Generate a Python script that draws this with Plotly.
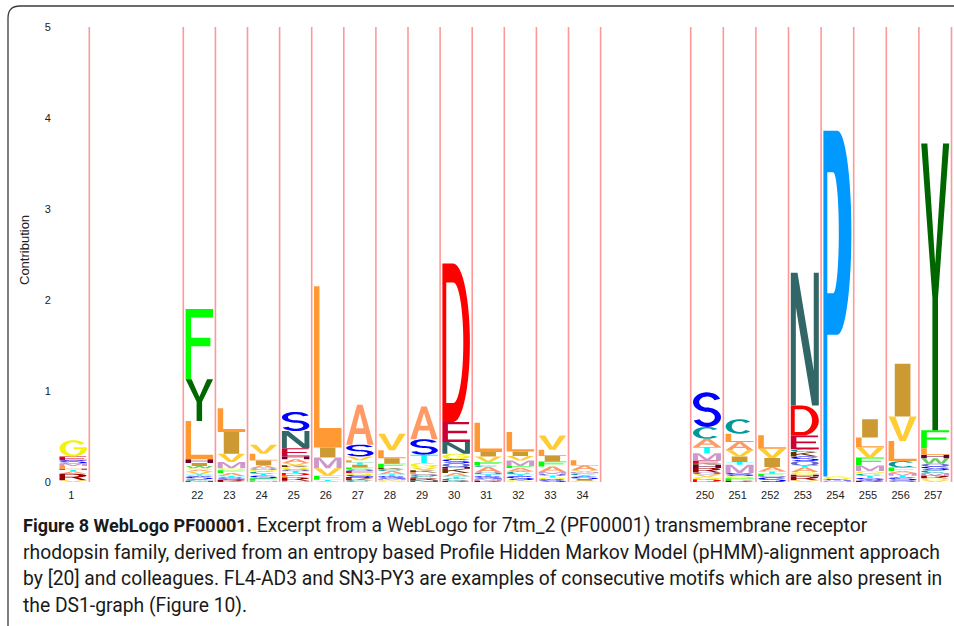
import math
import plotly.graph_objects as go

# ---------------- data ----------------
POSITIONS = ["1", "22", "23", "24", "25", "26", "27", "28", "29", "30", "31", "32", "33", "34",
             "250", "251", "252", "253", "254", "255", "256", "257"]
Y_TICKS = [0, 1, 2, 3, 4, 5]
Y_TITLE = "Contribution"

# letter stacks, bottom -> top, (residue, contribution)
S_1 = [("V", 0.02), ("R", 0.07), ("A", 0.025), ("T", 0.02), ("H", 0.01), ("L", 0.03), ("M", 0.03),
       ("S", 0.035), ("E", 0.04), ("G", 0.18)]
S_22 = [("N", 0.015), ("C", 0.015), ("S", 0.03), ("Q", 0.01), ("T", 0.015), ("V", 0.03), ("A", 0.02),
        ("G", 0.015), ("W", 0.025), ("I", 0.035), ("H", 0.04), ("L", 0.42), ("Y", 0.46), ("F", 0.77)]
S_23 = [("K", 0.01), ("R", 0.015), ("S", 0.025), ("T", 0.015), ("A", 0.035), ("F", 0.03), ("G", 0.02),
        ("M", 0.07), ("V", 0.09), ("I", 0.24), ("L", 0.26)]
S_24 = [("M", 0.015), ("F", 0.025), ("S", 0.03), ("T", 0.02), ("C", 0.025), ("G", 0.02), ("Q", 0.015),
        ("A", 0.035), ("I", 0.05), ("L", 0.075), ("V", 0.10)]
S_25 = [("M", 0.015), ("R", 0.035), ("L", 0.02), ("D", 0.03), ("T", 0.02), ("Q", 0.02), ("G", 0.025),
        ("K", 0.02), ("V", 0.025), ("A", 0.04), ("H", 0.03), ("E", 0.09), ("N", 0.19), ("S", 0.21)]
S_26 = [("A", 0.01), ("T", 0.015), ("F", 0.045), ("V", 0.08), ("M", 0.12), ("I", 0.11), ("L", 1.77)]
S_27 = [("C", 0.02), ("K", 0.015), ("R", 0.02), ("S", 0.02), ("G", 0.025), ("E", 0.02), ("Q", 0.02),
        ("F", 0.02), ("I", 0.03), ("T", 0.025), ("L", 0.025), ("V", 0.04), ("S", 0.13), ("A", 0.44)]
S_28 = [("G", 0.02), ("M", 0.015), ("S", 0.03), ("T", 0.02), ("A", 0.035), ("C", 0.02), ("K", 0.015),
        ("F", 0.045), ("I", 0.06), ("L", 0.09), ("V", 0.18)]
S_29 = [("N", 0.02), ("R", 0.02), ("C", 0.025), ("Q", 0.02), ("L", 0.02), ("K", 0.025), ("V", 0.03),
        ("G", 0.05), ("T", 0.09), ("S", 0.17), ("A", 0.36)]
S_30 = [("R", 0.015), ("C", 0.025), ("T", 0.02), ("A", 0.04), ("K", 0.045), ("H", 0.02), ("Q", 0.04),
        ("S", 0.045), ("G", 0.06), ("N", 0.13), ("E", 0.22), ("D", 1.74)]
S_31 = [("R", 0.015), ("M", 0.02), ("S", 0.03), ("T", 0.02), ("Q", 0.02), ("A", 0.06), ("C", 0.015),
        ("F", 0.04), ("V", 0.06), ("I", 0.05), ("L", 0.32)]
S_32 = [("G", 0.02), ("S", 0.045), ("T", 0.02), ("C", 0.03), ("A", 0.04), ("F", 0.02), ("M", 0.06),
        ("V", 0.05), ("I", 0.05), ("L", 0.215)]
S_33 = [("S", 0.03), ("G", 0.02), ("T", 0.02), ("Q", 0.02), ("M", 0.02), ("A", 0.06), ("F", 0.055),
        ("I", 0.06), ("L", 0.07), ("V", 0.155)]
S_34 = [("G", 0.015), ("I", 0.015), ("S", 0.03), ("T", 0.015), ("C", 0.02), ("M", 0.015), ("V", 0.02),
        ("A", 0.05), ("L", 0.06)]
S_250 = [("D", 0.03), ("G", 0.025), ("V", 0.03), ("Q", 0.02), ("R", 0.05), ("H", 0.035), ("K", 0.015),
         ("E", 0.03), ("M", 0.08), ("T", 0.07), ("A", 0.09), ("C", 0.13), ("S", 0.38)]
S_251 = [("R", 0.015), ("F", 0.025), ("G", 0.025), ("S", 0.035), ("M", 0.09), ("T", 0.03), ("I", 0.06),
         ("V", 0.07), ("A", 0.09), ("L", 0.09), ("C", 0.16)]
S_252 = [("S", 0.05), ("Q", 0.015), ("F", 0.025), ("T", 0.025), ("A", 0.05), ("I", 0.10), ("V", 0.10),
         ("L", 0.15)]
S_253 = [("V", 0.02), ("R", 0.04), ("H", 0.02), ("G", 0.03), ("A", 0.05), ("T", 0.02), ("Q", 0.05),
         ("S", 0.05), ("K", 0.05), ("C", 0.03), ("E", 0.15), ("D", 0.33), ("N", 1.46)]
S_254 = [("M", 0.015), ("S", 0.015), ("G", 0.03), ("P", 3.80)]
S_255 = [("R", 0.015), ("S", 0.03), ("T", 0.025), ("C", 0.02), ("G", 0.03), ("M", 0.06), ("F", 0.09),
         ("V", 0.11), ("L", 0.11), ("I", 0.20)]
S_256 = [("Q", 0.02), ("S", 0.03), ("T", 0.02), ("M", 0.03), ("A", 0.02), ("F", 0.04), ("C", 0.07),
         ("L", 0.22), ("V", 0.27), ("I", 0.58)]
S_257 = [("V", 0.02), ("G", 0.02), ("R", 0.03), ("M", 0.03), ("C", 0.03), ("S", 0.04), ("Q", 0.03),
         ("W", 0.06), ("H", 0.04), ("L", 0.07), ("F", 0.20), ("Y", 3.15)]

STACKS = [S_1, S_22, S_23, S_24, S_25, S_26, S_27, S_28, S_29, S_30, S_31, S_32, S_33, S_34,
          S_250, S_251, S_252, S_253, S_254, S_255, S_256, S_257]

LETTER_COLORS = {
    "A": "#FF9966", "C": "#009999", "D": "#FF0000", "E": "#CC0033", "F": "#00FF00",
    "G": "#F2F20C", "H": "#660033", "I": "#CC9933", "K": "#663300", "L": "#FF9933",
    "M": "#CC99CC", "N": "#336666", "P": "#0099FF", "Q": "#6666CC", "R": "#990000",
    "S": "#0000FF", "T": "#00FFFF", "V": "#FFCC33", "W": "#66CC66", "Y": "#006600",
}

CAPTION_BOLD = "Figure 8 WebLogo PF00001."
CAPTION_LINES = [
    " Excerpt from a WebLogo for 7tm_2 (PF00001) transmembrane receptor",
    "rhodopsin family, derived from an entropy based Profile Hidden Markov Model (pHMM)-alignment approach",
    "by [20] and colleagues. FL4-AD3 and SN3-PY3 are examples of consecutive motifs which are also present in",
    "the DS1-graph (Figure 10).",
]

# ---------------- layout (pixel geometry) ----------------
FIG_W, FIG_H = 954, 626
PLOT_L, PLOT_R, PLOT_T, PLOT_B = 57, 954, 27, 482
# (number of columns, left edge px, column width px, draw left boundary line)
SEGMENTS = [(1, 57.2, 32.1, False), (13, 183.3, 32.1, True), (8, 690.7, 32.6, True)]
GLYPH_PAD = 2.3

col_left, col_w = [], []
for n, x0, w, _ in SEGMENTS:
    for k in range(n):
        col_left.append(x0 + k * w)
        col_w.append(w)


def px_x(px):
    return (px - PLOT_L) / (PLOT_R - PLOT_L)


def px_y(py):
    return (PLOT_B - py) / (PLOT_B - PLOT_T)


# ---------------- glyph outlines (unit box) ----------------
SW, SH = 0.2, 0.12


def ell(cx, cy, rx, ry, a0, a1, n=26):
    return [(cx + rx * math.cos(math.radians(a0 + (a1 - a0) * i / n)),
             cy + ry * math.sin(math.radians(a0 + (a1 - a0) * i / n))) for i in range(n + 1)]


def ring(cx, cy, rxo, ryo, rxi, ryi, a0, a1, n=26):
    return ell(cx, cy, rxo, ryo, a0, a1, n) + ell(cx, cy, rxi, ryi, a1, a0, n)


def rect(x0, y0, x1, y1):
    return [(x0, y0), (x1, y0), (x1, y1), (x0, y1)]


RW = 0.5 - SW * 1.1
ga = math.degrees(math.asin((0.44 - 0.5) / (0.5 - SH)))
cy_u, cy_l = 0.75 - SH / 4, 0.25 + SH / 4
ryo, ryi = 0.25 + SH / 4, 0.25 - 3 * SH / 4
PS = 0.14  # thin stems of P / D

GLYPHS = {
    "A": [([(0, 0), (0.22, 0), (0.3, 0.27), (0.7, 0.27), (0.78, 0), (1, 0), (0.6, 1), (0.4, 1)], False),
          ([(0.36, 0.41), (0.64, 0.41), (0.5, 0.8)], True)],
    "C": [(ring(0.5, 0.5, 0.5, 0.5, RW, 0.5 - SH, 40, 320), False)],
    "D": [([(0, 0), (0.4, 0)] + ell(0.4, 0.5, 0.6, 0.5, -90, 90) + [(0, 1)], False),
          ([(PS, SH), (0.4, SH)] + ell(0.4, 0.5, 0.36, 0.5 - SH, -90, 90) + [(PS, 1 - SH)], True)],
    "E": [([(0, 0), (1, 0), (1, SH), (SW, SH), (SW, 0.5 - SH / 2), (0.9, 0.5 - SH / 2), (0.9, 0.5 + SH / 2),
            (SW, 0.5 + SH / 2), (SW, 1 - SH), (0.97, 1 - SH), (0.97, 1), (0, 1)], False)],
    "F": [([(0, 0), (SW, 0), (SW, 0.47), (0.9, 0.47), (0.9, 0.47 + SH), (SW, 0.47 + SH), (SW, 1 - SH),
            (1, 1 - SH), (1, 1), (0, 1)], False)],
    "G": [(ell(0.5, 0.5, 0.5, 0.5, 35, 360) + [(1, 0.56), (0.52, 0.56), (0.52, 0.44)]
           + ell(0.5, 0.5, RW, 0.5 - SH, 360 + ga, 35), False)],
    "H": [([(0, 0), (SW, 0), (SW, 0.44), (1 - SW, 0.44), (1 - SW, 0), (1, 0), (1, 1), (1 - SW, 1), (1 - SW, 0.56),
            (SW, 0.56), (SW, 1), (0, 1)], False)],
    "I": [(rect(0.22, 0, 0.78, 1), False)],
    "K": [([(0, 0), (SW, 0), (SW, 0.33), (0.36, 0.5), (0.78, 0), (1, 0), (0.48, 0.62), (0.97, 1), (0.74, 1),
            (SW, 0.56), (SW, 1), (0, 1)], False)],
    "L": [([(0, 0), (1, 0), (1, SH), (SW, SH), (SW, 1), (0, 1)], False)],
    "M": [([(0, 0), (SW * 0.9, 0), (SW * 0.9, 0.78), (0.42, 0), (0.58, 0), (1 - SW * 0.9, 0.78),
            (1 - SW * 0.9, 0), (1, 0), (1, 1), (0.78, 1), (0.5, 0.27), (0.22, 1), (0, 1)], False)],
    "N": [([(0, 0), (0.18, 0), (0.18, 0.74), (0.76, 0), (1, 0), (1, 1), (0.82, 1), (0.82, 0.26), (0.24, 1),
            (0, 1)], False)],
    "P": [([(0, 0), (PS, 0), (PS, 0.41), (0.5, 0.41)] + ell(0.5, 0.705, 0.5, 0.295, -90, 90) + [(0, 1)], False),
          ([(PS, 0.53), (0.35, 0.53)] + ell(0.35, 0.705, 0.2, 0.175, -90, 90) + [(PS, 0.88)], True)],
    "Q": [(ell(0.5, 0.5, 0.5, 0.5, 0, 360, 40), False),
          (ell(0.5, 0.5, RW, 0.5 - SH, 0, 360, 40), True),
          ([(0.55, 0.22), (0.74, 0.3), (1.0, 0.0), (0.8, 0.0)], False)],
    "R": [([(0, 0), (SW, 0), (SW, 0.42), (0.45, 0.42), (0.8, 0), (1, 0), (0.66, 0.45)]
           + ell(0.5, 0.71, 0.48, 0.29, -55, 90) + [(0, 1)], False),
          ([(SW, 0.42 + SH), (0.45, 0.42 + SH)] + ell(0.45, 0.71, 0.25, 0.29 - SH, -90, 90) + [(SW, 1 - SH)], True)],
    "S": [(ring(0.5, cy_u, 0.5, ryo, RW, ryi, 20, 285), False),
          (ring(0.5, cy_l, 0.5, ryo, RW, ryi, 105, -160), False)],
    "T": [([(0, 1 - SH), (0.5 - SW / 2, 1 - SH), (0.5 - SW / 2, 0), (0.5 + SW / 2, 0), (0.5 + SW / 2, 1 - SH),
            (1, 1 - SH), (1, 1), (0, 1)], False)],
    "V": [([(0, 1), (0.24, 1), (0.5, 0.2), (0.76, 1), (1, 1), (0.61, 0), (0.39, 0)], False)],
    "W": [([(0, 1), (0.16, 1), (0.28, 0.24), (0.42, 1), (0.58, 1), (0.72, 0.24), (0.84, 1), (1, 1), (0.81, 0),
            (0.63, 0), (0.5, 0.68), (0.37, 0), (0.19, 0)], False)],
    "Y": [([(0, 1), (0.22, 1), (0.5, 0.58), (0.78, 1), (1, 1), (0.5 + SW / 2, 0.46), (0.5 + SW / 2, 0),
            (0.5 - SW / 2, 0), (0.5 - SW / 2, 0.46)], False)],
}


def signed_area(pts):
    a = 0.0
    for i in range(len(pts)):
        x0, y0 = pts[i]
        x1, y1 = pts[(i + 1) % len(pts)]
        a += x0 * y1 - x1 * y0
    return a / 2


# ---------------- build letter traces ----------------
paths = {k: ([], []) for k in LETTER_COLORS}
for ci, stack in enumerate(STACKS):
    xl = col_left[ci] + GLYPH_PAD
    xw = col_w[ci] - 2 * GLYPH_PAD
    base = 0.0
    for letter, h in stack:
        for contour, hole in GLYPHS[letter]:
            pts = [(xl + u * xw, base + v * h) for u, v in contour]
            a = signed_area(pts)
            if (a > 0) == hole:
                pts = pts[::-1]
            xs, ys = paths[letter]
            xs.extend([p[0] for p in pts] + [pts[0][0], None])
            ys.extend([p[1] for p in pts] + [pts[0][1], None])
        base += h

fig = go.Figure()
for letter, (xs, ys) in paths.items():
    if not xs:
        continue
    fig.add_trace(go.Scatter(x=xs, y=ys, mode="lines", fill="toself", fillcolor=LETTER_COLORS[letter],
                             line=dict(width=0, color=LETTER_COLORS[letter], simplify=False),
                             hoverinfo="skip", showlegend=False, name=letter))

# ---------------- column separator lines ----------------
shapes = []
y_unit_px = (PLOT_B - PLOT_T) / 5.0
line_top = (PLOT_B - 26) / y_unit_px
for n, x0, w, left_line in SEGMENTS:
    for k in range(0 if left_line else 1, n + 1):
        xb = x0 + k * w
        shapes.append(dict(type="line", xref="x", yref="y", x0=xb, x1=xb, y0=0, y1=line_top,
                           line=dict(color="rgba(255,70,70,0.55)", width=1.6), layer="below"))

# axis line with ticks under the right segment
n_r, x_r, w_r, _ = SEGMENTS[2]
ax_y = -1.3 / y_unit_px
shapes.append(dict(type="line", xref="x", yref="y", x0=x_r - 0.5, x1=x_r + n_r * w_r + 0.5, y0=ax_y, y1=ax_y,
                   line=dict(color="#222", width=1)))
for k in range(n_r + 1):
    xb = x_r + k * w_r
    shapes.append(dict(type="line", xref="x", yref="y", x0=xb, x1=xb, y0=ax_y, y1=-4.5 / y_unit_px,
                       line=dict(color="#222", width=1)))

# rounded figure frame
fx, fy, fr = 8, 6, 12
frame_path = (f"M {px_x(fx)} {px_y(700)} L {px_x(fx)} {px_y(fy + fr)} "
              f"Q {px_x(fx)} {px_y(fy)} {px_x(fx + fr)} {px_y(fy)} L {px_x(1000)} {px_y(fy)}")
shapes.append(dict(type="path", xref="paper", yref="paper", path=frame_path,
                   line=dict(color="#3c3c3c", width=1.3)))

# ---------------- annotations ----------------
annotations = [dict(text=Y_TITLE, xref="paper", yref="paper", x=px_x(24), y=px_y(250), textangle=-90,
                    showarrow=False, font=dict(family="Liberation Sans, Arial", size=13, color="#222"),
                    xanchor="center", yanchor="middle")]
CAPTION_Y = [525, 552, 578.5, 605]
caption_texts = ["<b><span style='font-size:18px'>" + CAPTION_BOLD + "</span></b>" + CAPTION_LINES[0]] \
    + CAPTION_LINES[1:]
for txt, cy in zip(caption_texts, CAPTION_Y):
    annotations.append(dict(text=txt, xref="paper", yref="paper", x=px_x(21), y=px_y(cy), showarrow=False,
                            xanchor="left", yanchor="middle", align="left",
                            font=dict(family="Roboto, Liberation Sans", size=19.3, color="#1a1a1a")))

centers = [col_left[i] + col_w[i] / 2 for i in range(len(POSITIONS))]

fig.update_layout(
    width=FIG_W, height=FIG_H,
    margin=dict(l=PLOT_L, r=FIG_W - PLOT_R, t=PLOT_T, b=FIG_H - PLOT_B, pad=0),
    paper_bgcolor="white", plot_bgcolor="white",
    showlegend=False,
    xaxis=dict(range=[PLOT_L, PLOT_R], showgrid=False, zeroline=False, showline=False,
               tickmode="array", tickvals=centers, ticktext=POSITIONS, ticklabelshift=-2,
               ticks="outside", ticklen=3, tickcolor="rgba(0,0,0,0)",
               tickfont=dict(family="Liberation Sans, Arial", size=11, color="#222"), fixedrange=True),
    yaxis=dict(range=[0, 5], showgrid=False, zeroline=False, showline=False,
               tickmode="array", tickvals=Y_TICKS, ticktext=[str(v) for v in Y_TICKS],
               ticks="outside", ticklen=3, tickcolor="rgba(0,0,0,0)",
               tickfont=dict(family="Liberation Sans, Arial", size=11, color="#222"), fixedrange=True),
    shapes=shapes,
    annotations=annotations,
)

fig.write_html("out.html", include_plotlyjs=True, config={"displayModeBar": False},
               post_script="document.body.style.margin='0';document.body.style.overflow='hidden';")
